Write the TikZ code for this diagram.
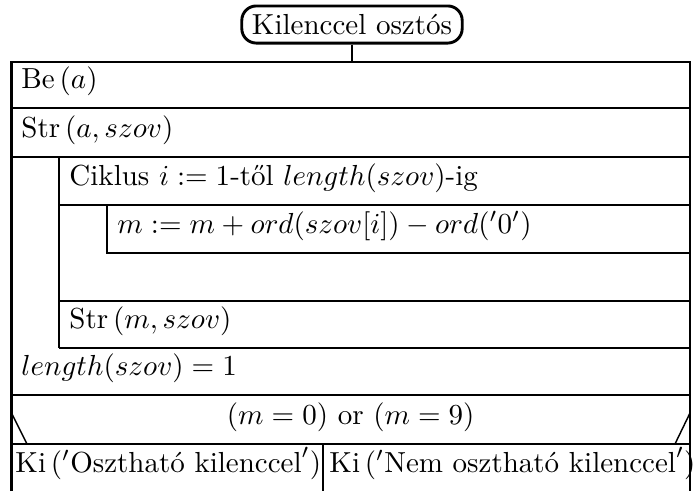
\documentclass[tikz,border=0pt]{standalone}
\usepackage{amsmath}
\usepackage{fontspec}
\usetikzlibrary{positioning}

\begin{document}
\begin{tikzpicture}[x=0.3448pt, y=-0.3448pt, line width=1pt,
		every node/.style={inner sep=0pt},
		cell/.style={anchor=base west},
		slant/.style={line width=0.5pt}]
	\useasboundingbox (0,0) rectangle (696,491);
	% title
	\node[draw, rounded corners=5pt, minimum width=76pt, minimum height=12.8pt] (title) at (352,24.5) {Kilenccel osztós};
	\coordinate (tl) at (11.5,62);
	\coordinate (tr) at (690,62);
	% texts
	\node[cell] (be) at (20,88) {Be\,$(a)$};
	\node[cell] (str1) at (20,137) {Str\,$(a, szov)$};
	\node[cell] (loop) at (68,185) {Ciklus $i := 1$-től $length(szov)$-ig};
	\node[cell] (sum) at (116,233) {$m := m + ord(szov[i]) - ord('0')$};
	\node[cell] (str2) at (68,328) {Str\,$(m, szov)$};
	\node[cell] (len) at (20,375) {$length(szov) = 1$};
	\node[anchor=base] (cond) at (350.7,424) {$(m = 0)$ or $(m = 9)$};
	\node[cell] (yes) at (14,472) {Ki\,$('\text{Osztható kilenccel}')$};
	\node[cell] (no) at (328,472) {Ki\,$('\text{Nem osztható kilenccel}')$};
	% frame
	\draw (title.south) -- (title.south |- tl);
	\draw (11.5,491) -- (tl) -- (tr) -- (690,491);
	\foreach \y in {108,157,395,444} \draw (11.5,\y) -- (690,\y);
	\foreach \y in {205,301,348} \draw (59,\y) -- (690,\y);
	\draw (59,157) -- (59,348);
	\draw (107,205) -- (107,253) -- (690,253);
	\draw (323,444) -- (323,491);
	\draw[slant] (11.5,413) -- (27,444);
	\draw[slant] (675,444) -- (690,413);
\end{tikzpicture}
\end{document}
